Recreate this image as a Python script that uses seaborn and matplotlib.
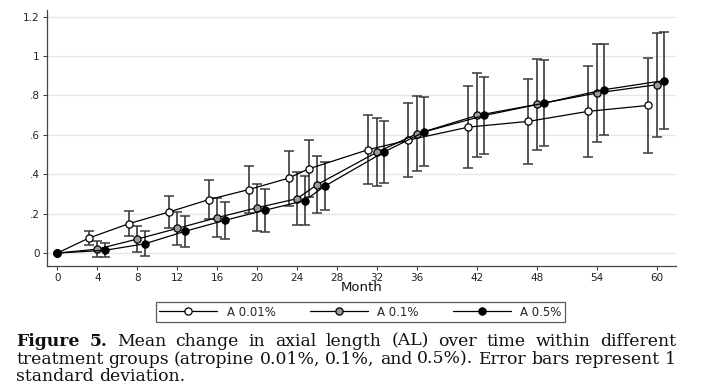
import numpy as np
import pandas as pd
import matplotlib
matplotlib.use("Agg")
import matplotlib.pyplot as plt
import seaborn as sns

# Data
months = [0, 4, 8, 12, 16, 20, 24, 26, 32, 36, 42, 48, 54, 60]
groups = ["A 0.01%", "A 0.1%", "A 0.5%"]
mean_001 = [0, 0.076, 0.149, 0.208, 0.271, 0.322, 0.380, 0.427, 0.525, 0.573, 0.639, 0.668, 0.719, 0.749]
sd_001 = [0, 0.036, 0.062, 0.080, 0.100, 0.120, 0.140, 0.145, 0.175, 0.187, 0.207, 0.215, 0.230, 0.239]
mean_01 = [0, 0.020, 0.071, 0.125, 0.180, 0.230, 0.276, 0.347, 0.512, 0.605, 0.698, 0.754, 0.812, 0.854]
sd_01 = [0, 0.040, 0.068, 0.083, 0.100, 0.120, 0.134, 0.144, 0.172, 0.190, 0.213, 0.230, 0.250, 0.264]
mean_05 = [0, 0.014, 0.047, 0.110, 0.166, 0.217, 0.266, 0.339, 0.514, 0.615, 0.698, 0.761, 0.829, 0.875]
sd_05 = [0, 0.035, 0.064, 0.080, 0.095, 0.110, 0.123, 0.123, 0.158, 0.175, 0.196, 0.218, 0.230, 0.244]

xticks = [0, 4, 8, 12, 16, 20, 24, 28, 32, 36, 42, 48, 54, 60]
yticks = [0, 0.2, 0.4, 0.6, 0.8, 1.0, 1.2]
ytick_labels = ["0", ".2", ".4", ".6", ".8", "1", "1.2"]

caption1 = "Figure 5. Mean change in axial length (AL) over time within different"
caption2 = "treatment groups (atropine 0.01%, 0.1%, and 0.5%). Error bars represent 1"
caption3 = "standard deviation."

rows = []
for g, m, s in zip(groups, [mean_001, mean_01, mean_05], [sd_001, sd_01, sd_05]):
    for mo, v, e in zip(months, m, s):
        rows.append({"group": g, "month": mo, "AL": v, "sd": e})
df = pd.DataFrame(rows)

# groups are shifted a little along x so the bars don't overlap
offsets = {"A 0.01%": -0.85, "A 0.1%": 0.0, "A 0.5%": 0.75}
df["pos"] = df["month"] + np.where(df["month"] > 0, df["group"].map(offsets), 0)

sns.set_style("white")
plt.rcParams["font.family"] = ["DejaVu Sans"]

W, H = 721, 386
fig = plt.figure(figsize=(W / 100, H / 100), dpi=100)
ax = fig.add_axes([46.7 / W, 1 - 265.7 / H, (676 - 46.7) / W, (265.7 - 10) / H])

faces = {"A 0.01%": "white", "A 0.1%": "#9a9a9a", "A 0.5%": "black"}
for g in groups:
    d = df[(df["group"] == g) & (df["month"] > 0)]
    ax.errorbar(d["pos"], d["AL"], yerr=d["sd"], fmt="none", ecolor="#3a3a3a",
                elinewidth=1.2, capsize=3.5, capthick=1.1, zorder=2)
for g in groups:
    d = df[df["group"] == g]
    sns.lineplot(data=d, x="pos", y="AL", ax=ax, color="black", lw=0.9,
                 marker="o", markersize=5.2, markerfacecolor=faces[g],
                 markeredgecolor="black", markeredgewidth=0.9, label=g,
                 zorder=3, sort=False)

ax.set_xlim(-1.06, 61.93)
ax.set_ylim(-0.064, 1.233)
ax.set_xticks(xticks)
ax.set_yticks(yticks)
ax.set_yticklabels(ytick_labels)
ax.yaxis.grid(True, color="#e6e6e6", lw=1)
ax.set_axisbelow(True)
for sp in ["top", "right"]:
    ax.spines[sp].set_visible(False)
for sp in ["left", "bottom"]:
    ax.spines[sp].set_color("#444444")
    ax.spines[sp].set_linewidth(0.9)
ax.tick_params(direction="out", length=3, width=0.8, color="#444444",
               labelsize=7.5, labelcolor="#222222", pad=2, left=True, bottom=True)
ax.set_ylabel("")
ax.set_xlabel("Month", fontsize=9.5, color="#111111")
ax.xaxis.set_label_coords(0.5, -0.086)
ax.xaxis.label.set_va("center")

handles, labels = ax.get_legend_handles_labels()
ax.get_legend().remove()
leg = fig.legend(handles, labels, ncol=3, loc="center", bbox_to_anchor=(360.5 / W, 1 - 312 / H),
                 frameon=True, fancybox=False, edgecolor="#333333", fontsize=8.5,
                 handlelength=4.9, handletextpad=0.8, columnspacing=2.9, borderpad=0.3)
leg.get_frame().set_linewidth(0.9)

# justified caption
renderer = fig.canvas.get_renderer()
x0, x1 = 16, 676
cap_font = dict(family="DejaVu Serif", fontsize=12.4, color="#111111", va="center")


def put_line(line, y, justify=True, n_bold=0):
    words = line.split(" ")
    texts = []
    for i, w in enumerate(words):
        t = fig.text(0, 1 - y / H, w, fontweight="bold" if i < n_bold else "normal", **cap_font)
        texts.append(t)
    widths = [t.get_window_extent(renderer).width for t in texts]
    if justify:
        gap = (x1 - x0 - sum(widths)) / (len(words) - 1)
    else:
        gap = cap_font["fontsize"] * 100 / 72 * 0.32
    x = x0
    for t, w in zip(texts, widths):
        t.set_x(x / W)
        x += w + gap


put_line(caption1, 341, n_bold=2)
put_line(caption2, 359)
put_line(caption3, 376.5, justify=False)

fig.savefig("out.png", dpi=100)
